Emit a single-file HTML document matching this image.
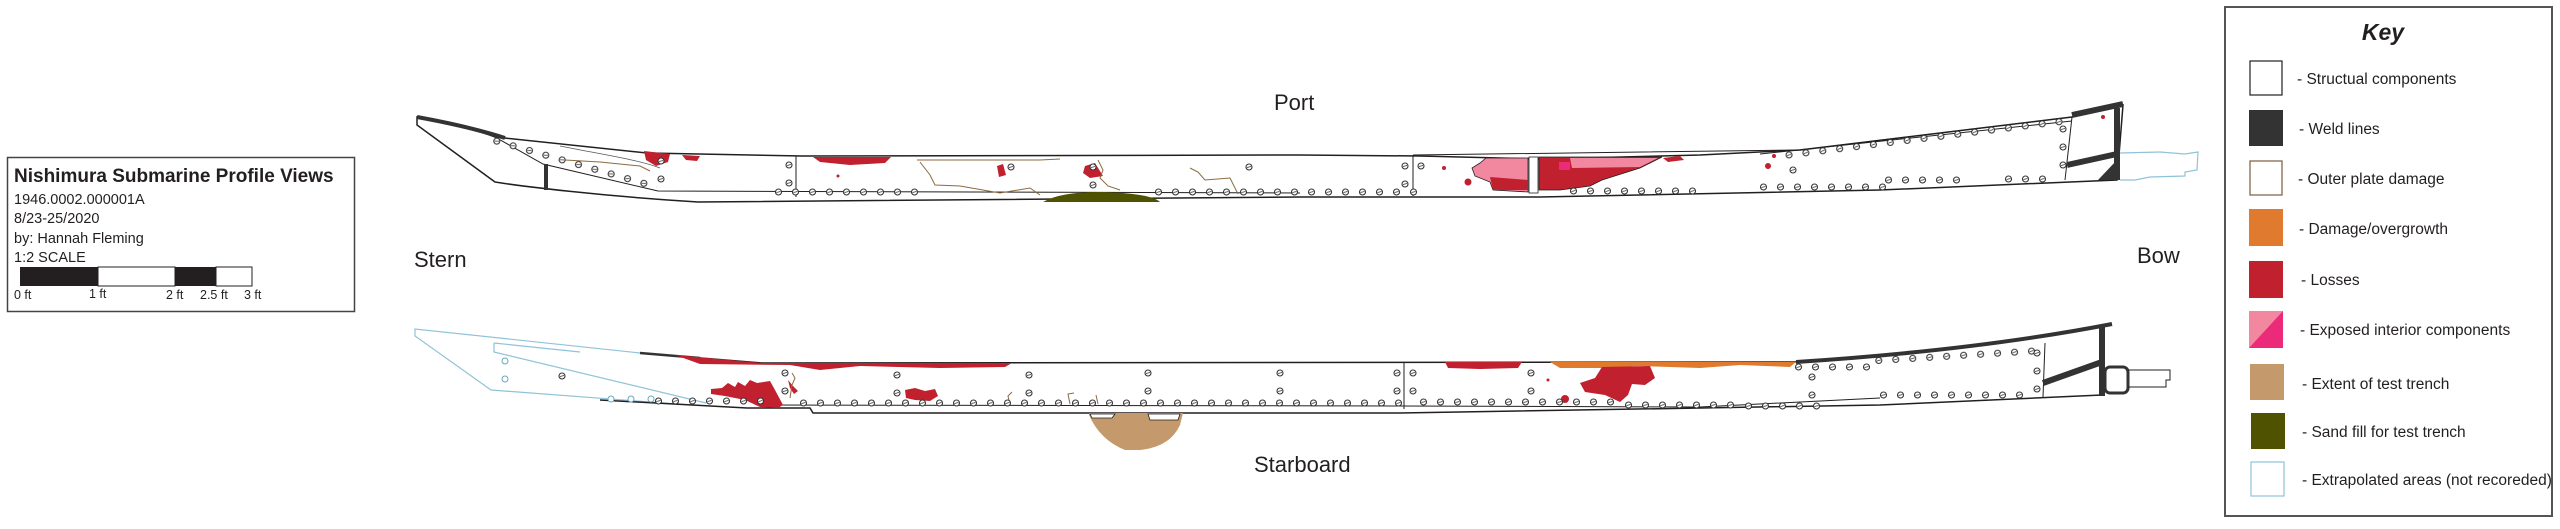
<!DOCTYPE html>
<html><head><meta charset="utf-8"><style>
html,body{margin:0;padding:0;background:#fff;}
svg{display:block;}
text{font-family:"Liberation Sans",sans-serif;fill:#231f20;}
</style></head><body>
<svg width="2560" height="529" viewBox="0 0 2560 529" xmlns="http://www.w3.org/2000/svg">
<defs>
<pattern id="rv" patternUnits="userSpaceOnUse" width="17" height="10">
<circle cx="8.5" cy="5" r="3" fill="#fff" stroke="#333" stroke-width="1.1"/><line x1="6.5" y1="5.5" x2="10.5" y2="4.5" stroke="#333" stroke-width="0.9"/>
</pattern>
<pattern id="rvv" patternUnits="userSpaceOnUse" width="10" height="18">
<circle cx="5" cy="9" r="3" fill="#fff" stroke="#333" stroke-width="1.1"/><line x1="3" y1="9.5" x2="7" y2="8.5" stroke="#333" stroke-width="0.9"/>
</pattern>
<pattern id="rvb" patternUnits="userSpaceOnUse" width="20" height="10">
<circle cx="10" cy="5" r="3" fill="#fff" stroke="#6aa7be" stroke-width="1"/>
</pattern>
<pattern id="rvbv" patternUnits="userSpaceOnUse" width="10" height="18">
<circle cx="5" cy="9" r="3" fill="#fff" stroke="#6aa7be" stroke-width="1"/>
</pattern>
</defs>

<!-- Title box -->
<rect x="7.5" y="157.5" width="347" height="154" fill="#fff" stroke="#444" stroke-width="1.5"/>
<text x="14" y="182" font-size="19" font-weight="bold">Nishimura Submarine Profile Views</text>
<text x="14" y="204" font-size="14.5">1946.0002.000001A</text>
<text x="14" y="223" font-size="14.5">8/23-25/2020</text>
<text x="14" y="243" font-size="14.5">by: Hannah Fleming</text>
<text x="14" y="262" font-size="14.5">1:2 SCALE</text>
<rect x="20" y="267" width="78" height="19" fill="#231f20"/>
<rect x="98" y="267" width="77" height="19" fill="#fff" stroke="#231f20" stroke-width="1"/>
<rect x="175" y="267" width="41" height="19" fill="#231f20"/>
<rect x="216" y="267" width="36" height="19" fill="#fff" stroke="#231f20" stroke-width="1"/>
<text x="14" y="299" font-size="12.5">0 ft</text>
<text x="89" y="298" font-size="12.5">1 ft</text>
<text x="166" y="299" font-size="12.5">2 ft</text>
<text x="200" y="299" font-size="12.5">2.5 ft</text>
<text x="244" y="299" font-size="12.5">3 ft</text>

<!-- Labels -->
<text x="1274" y="110" font-size="22">Port</text>
<text x="414" y="267" font-size="22">Stern</text>
<text x="2137" y="263" font-size="22">Bow</text>
<text x="1254" y="472" font-size="22">Starboard</text>

<!-- ================= PORT HULL ================= -->
<path d="M417,117 C450,124 480,131 495,137 L647,153 L802,156 L1300,155 L1420,156 L1540,159 L1700,155 L1800,150 L2072,117 L2123,105 L2117,180 L1880,190 L1540,197 L1300,197 L698,202 C600,196 520,186 495,182 L417,125 Z" fill="#fff" stroke="#231f20" stroke-width="1.5"/>
<path d="M1413,155 L1800,150 L2072,117" fill="none" stroke="#231f20" stroke-width="1"/>
<path d="M1760,154 L2072,121" fill="none" stroke="#231f20" stroke-width="1"/>
<path d="M495,137 L543,164 L658,191 L1300,193" fill="none" stroke="#231f20" stroke-width="1"/>
<path d="M560,146 C600,154 640,160 660,168" fill="none" stroke="#555" stroke-width="0.8"/>
<path d="M417,117 C450,123 480,130 505,138" fill="none" stroke="#333" stroke-width="4"/>
<line x1="546" y1="164" x2="546" y2="190" stroke="#333" stroke-width="4"/>
<line x1="796" y1="156" x2="796" y2="197" stroke="#231f20" stroke-width="1"/>
<line x1="1413" y1="155" x2="1413" y2="196" stroke="#231f20" stroke-width="1"/>
<line x1="2072" y1="117" x2="2065" y2="180" stroke="#231f20" stroke-width="1"/>
<path d="M2072,115 L2123,104" stroke="#333" stroke-width="6" fill="none"/>
<line x1="2117" y1="108" x2="2117" y2="180" stroke="#333" stroke-width="6"/>
<path d="M2067,165 L2117,154" stroke="#333" stroke-width="6" fill="none"/>
<path d="M2098,180 L2117,160 L2117,180 Z" fill="#333"/>
<circle cx="2103" cy="117" r="2" fill="#c1202f"/>
<path d="M2120,153 L2160,152 L2185,154 L2198,152 L2197,170 L2185,172 L2185,176 L2150,177 L2135,180 L2120,180" fill="none" stroke="#8fc3d8" stroke-width="1.2"/>
<!-- damage port -->
<path d="M644,151 L670,154 L668,162 L656,166 L646,160 Z" fill="#c1202f"/>
<path d="M682,155 L700,156 L697,161 L686,160 Z" fill="#c1202f"/>
<path d="M813,157 L891,157 L885,163 L850,165 L820,162 Z" fill="#c1202f"/>
<path d="M997,166 L1003,164 L1006,175 L999,177 Z" fill="#c1202f"/>
<path d="M1085,166 L1095,163 L1103,176 L1090,178 L1083,173 Z" fill="#c1202f"/>
<circle cx="838" cy="176" r="1.5" fill="#c1202f"/>
<path d="M917,160 L1040,160 L1060,159 M920,162 L930,175 L935,185 L960,186 L1000,193 L1030,188 L1040,195 M1098,160 L1103,170 L1100,178 L1108,186 L1120,190 M1190,168 L1198,172 L1205,180 L1230,178 L1238,194" fill="none" stroke="#8a6a40" stroke-width="1"/>
<path d="M565,160 L600,162 L640,166 L650,171" fill="none" stroke="#8a6a40" stroke-width="1"/>
<path d="M1043,202 Q1060,192 1100,192 Q1150,193 1160,202 Z" fill="#4f5200"/>
<!-- exposed interior port -->
<path d="M1486,158 L1528,158 L1528,192 L1493,190 L1490,182 L1475,176 L1472,168 L1480,163 Z" fill="#f288a0" stroke="#231f20" stroke-width="0.8"/>
<path d="M1490,177 L1528,180 L1528,190 L1493,190 Z" fill="#c1202f"/>
<path d="M1539,157 L1662,157 L1640,168 L1602,180 L1590,186 L1560,190 L1539,190 Z" fill="#c1202f" stroke="#231f20" stroke-width="0.8"/>
<path d="M1570,158 L1658,158 L1640,167 L1572,168 Z" fill="#f288a0"/>
<rect x="1559" y="162" width="11" height="8" fill="#ec2a7a"/>
<rect x="1529" y="157" width="9" height="36" fill="#fff" stroke="#231f20" stroke-width="0.8"/>
<circle cx="1468" cy="182" r="3.5" fill="#c1202f"/>
<circle cx="1444" cy="168" r="2" fill="#c1202f"/>
<circle cx="1768" cy="166" r="3" fill="#c1202f"/>
<circle cx="1774" cy="156" r="2" fill="#c1202f"/>
<path d="M1663,158 L1680,156 L1684,160 L1668,162 Z" fill="#c1202f"/>
<!-- port rivets -->
<g transform="translate(490,134) rotate(16)"><rect width="175" height="10" fill="url(#rv)"/></g>
<g transform="translate(770,187)"><rect width="153" height="10" fill="url(#rv)"/></g>
<g transform="translate(1150,187)"><rect width="272" height="10" fill="url(#rv)"/></g>
<g transform="translate(1565,186)"><rect width="136" height="10" fill="url(#rv)"/></g>
<g transform="translate(1755,182)"><rect width="136" height="10" fill="url(#rv)"/></g>
<g transform="translate(1880,175)"><rect width="85" height="10" fill="url(#rv)"/></g>
<g transform="translate(2000,174)"><rect width="51" height="10" fill="url(#rv)"/></g>
<g transform="translate(1780,151) rotate(-7)"><rect width="289" height="10" fill="url(#rv)"/></g>
<g transform="translate(656,152)"><rect width="10" height="36" fill="url(#rvv)"/></g>
<g transform="translate(784,156)"><rect width="10" height="36" fill="url(#rvv)"/></g>
<g transform="translate(1006,158)"><rect width="10" height="18" fill="url(#rvv)"/></g>
<g transform="translate(1088,158)"><rect width="10" height="36" fill="url(#rvv)"/></g>
<g transform="translate(1244,158)"><rect width="10" height="18" fill="url(#rvv)"/></g>
<g transform="translate(1400,157)"><rect width="10" height="36" fill="url(#rvv)"/></g>
<g transform="translate(1416,157)"><rect width="10" height="18" fill="url(#rvv)"/></g>
<g transform="translate(1788,161)"><rect width="10" height="18" fill="url(#rvv)"/></g>
<g transform="translate(2058,120)"><rect width="10" height="54" fill="url(#rvv)"/></g>

<!-- ================= STARBOARD HULL ================= -->
<path d="M415,329 L640,353 L762,363 L1796,362 C1950,352 2050,336 2110,325 L2102,395 L1880,405 L1400,413 L813,413 L810,408 L747,408 L491,390 L415,336 Z" fill="#fff" stroke="none"/>
<path d="M640,353 L415,329 L415,336 L491,390 L690,405 M494,343 L494,352 L706,403 M494,343 L580,352" fill="none" stroke="#8fc3d8" stroke-width="1.2"/>
<path d="M640,353 L762,363 L1796,362 C1950,352 2050,336 2110,325" fill="none" stroke="#231f20" stroke-width="1.5"/>
<path d="M600,400 L747,408 L810,408 L813,413 L1400,413 L1880,405 L2102,395" fill="none" stroke="#231f20" stroke-width="1.5"/>
<path d="M762,405 L1400,406 L1700,407 L1880,398" fill="none" stroke="#231f20" stroke-width="1"/>
<line x1="1404" y1="362" x2="1404" y2="409" stroke="#231f20" stroke-width="1"/>
<path d="M2045,343 L2043,397" fill="none" stroke="#231f20" stroke-width="1"/>
<path d="M1796,362 C1950,352 2050,336 2112,324" fill="none" stroke="#333" stroke-width="4"/>
<path d="M640,353 L700,358" fill="none" stroke="#333" stroke-width="2.5"/>
<line x1="2102" y1="326" x2="2102" y2="396" stroke="#333" stroke-width="6"/>
<path d="M2043,383 L2102,362" stroke="#333" stroke-width="6" fill="none"/>
<rect x="2105" y="367" width="23" height="26" rx="5" fill="#fff" stroke="#333" stroke-width="3"/>
<path d="M2128,370 L2170,370 L2170,380 L2166,380 L2166,387 L2128,387" fill="none" stroke="#231f20" stroke-width="1"/>
<!-- damage starboard -->
<path d="M675,355 L762,363 L1012,363 L1005,367 L940,368 L860,366 L820,370 L790,365 L700,364 Z" fill="#c1202f"/>
<path d="M711,389 L722,388 L728,383 L735,387 L738,382 L745,386 L750,380 L757,383 L770,381 L775,390 L783,405 L778,408 L760,407 L745,400 L725,396 L711,394 Z" fill="#c1202f"/>
<path d="M788,380 L793,386 L798,391 L794,394 L790,388 Z" fill="#c1202f"/>
<path d="M905,390 L915,388 L925,391 L935,389 L938,396 L930,401 L915,400 L906,398 Z" fill="#c1202f"/>
<path d="M1550,362 L1796,362 L1790,367 L1740,365 L1700,368 L1640,366 L1600,368 L1560,368 Z" fill="#e07a2e"/>
<path d="M1445,362 L1522,362 L1518,368 L1480,369 L1448,368 Z" fill="#c1202f"/>
<path d="M1580,383 L1595,378 L1602,367 L1650,366 L1655,378 L1645,385 L1632,384 L1628,395 L1620,402 L1605,395 L1585,392 Z" fill="#c1202f"/>
<circle cx="1565" cy="399" r="4" fill="#c1202f"/>
<circle cx="1548" cy="380" r="1.5" fill="#c1202f"/>
<path d="M1089,413 L1183,413 L1180,425 Q1170,447 1140,450 L1125,450 Q1100,440 1089,415 Z" fill="#c49a6c"/>
<path d="M1090,414 L1115,414 L1112,418 L1092,418 Z M1148,414 L1180,414 L1178,420 L1150,420 Z" fill="#fff" stroke="#231f20" stroke-width="0.8"/>
<path d="M790,398 L792,385 L795,378 L792,373 M1010,405 L1008,396 L1012,392 M1070,404 L1068,394 L1074,393 M1098,404 L1096,395" fill="none" stroke="#8a6a40" stroke-width="1"/>
<!-- starboard rivets -->
<g transform="translate(650,396)"><rect width="119" height="10" fill="url(#rv)"/></g>
<g transform="translate(601,394)"><rect width="60" height="10" fill="url(#rvb)"/></g>
<g transform="translate(795,398)"><rect width="612" height="10" fill="url(#rv)"/></g>
<g transform="translate(1415,397)"><rect width="204" height="10" fill="url(#rv)"/></g>
<g transform="translate(1620,400)"><rect width="119" height="10" fill="url(#rv)"/></g>
<g transform="translate(1740,401)"><rect width="85" height="10" fill="url(#rv)"/></g>
<g transform="translate(1875,390)"><rect width="153" height="10" fill="url(#rv)"/></g>
<g transform="translate(1790,362)"><rect width="85" height="10" fill="url(#rv)"/></g>
<g transform="translate(1870,356) rotate(-3.5)"><rect width="170" height="10" fill="url(#rv)"/></g>
<g transform="translate(2032,344)"><rect width="10" height="54" fill="url(#rvv)"/></g>
<g transform="translate(500,352)"><rect width="10" height="36" fill="url(#rvbv)"/></g>
<g transform="translate(557,367)"><rect width="10" height="18" fill="url(#rvv)"/></g>
<g transform="translate(780,364)"><rect width="10" height="36" fill="url(#rvv)"/></g>
<g transform="translate(892,366)"><rect width="10" height="36" fill="url(#rvv)"/></g>
<g transform="translate(1024,366)"><rect width="10" height="36" fill="url(#rvv)"/></g>
<g transform="translate(1143,364)"><rect width="10" height="36" fill="url(#rvv)"/></g>
<g transform="translate(1275,364)"><rect width="10" height="36" fill="url(#rvv)"/></g>
<g transform="translate(1392,364)"><rect width="10" height="36" fill="url(#rvv)"/></g>
<g transform="translate(1408,364)"><rect width="10" height="36" fill="url(#rvv)"/></g>
<g transform="translate(1526,364)"><rect width="10" height="36" fill="url(#rvv)"/></g>
<g transform="translate(1807,368)"><rect width="10" height="36" fill="url(#rvv)"/></g>

<!-- ================= KEY ================= -->
<rect x="2225" y="7" width="327" height="509" fill="#fff" stroke="#555" stroke-width="2"/>
<text x="2383" y="40" font-size="23" font-weight="bold" font-style="italic" text-anchor="middle">Key</text>
<rect x="2250" y="61" width="32" height="34" fill="#fff" stroke="#231f20" stroke-width="1.2"/>
<text x="2297" y="84" font-size="15.5">- Structual components</text>
<rect x="2249" y="110" width="34" height="36" fill="#333"/>
<text x="2299" y="134" font-size="15.5">- Weld lines</text>
<rect x="2250" y="161" width="32" height="34" fill="#fff" stroke="#7a5a3e" stroke-width="1.2"/>
<text x="2298" y="184" font-size="15.5">- Outer plate damage</text>
<rect x="2249" y="209" width="34" height="37" fill="#e07a2e"/>
<text x="2299" y="234" font-size="15.5">- Damage/overgrowth</text>
<rect x="2249" y="261" width="34" height="37" fill="#c1202f"/>
<text x="2301" y="285" font-size="15.5">- Losses</text>
<rect x="2249" y="311" width="34" height="37" fill="#ec2a7a"/>
<path d="M2249,311 L2283,311 L2249,348 Z" fill="#f288a0"/>
<text x="2300" y="335" font-size="15.5">- Exposed interior components</text>
<rect x="2250" y="364" width="34" height="36" fill="#c49a6c"/>
<text x="2302" y="389" font-size="15.5">- Extent of test trench</text>
<rect x="2251" y="413" width="34" height="36" fill="#4f5200"/>
<text x="2302" y="437" font-size="15.5">- Sand fill for test trench</text>
<rect x="2251" y="462" width="33" height="34" fill="#fff" stroke="#8fc3d8" stroke-width="1.2"/>
<text x="2302" y="485" font-size="15.5">- Extrapolated areas (not recoreded)</text>
</svg>
</body></html>
